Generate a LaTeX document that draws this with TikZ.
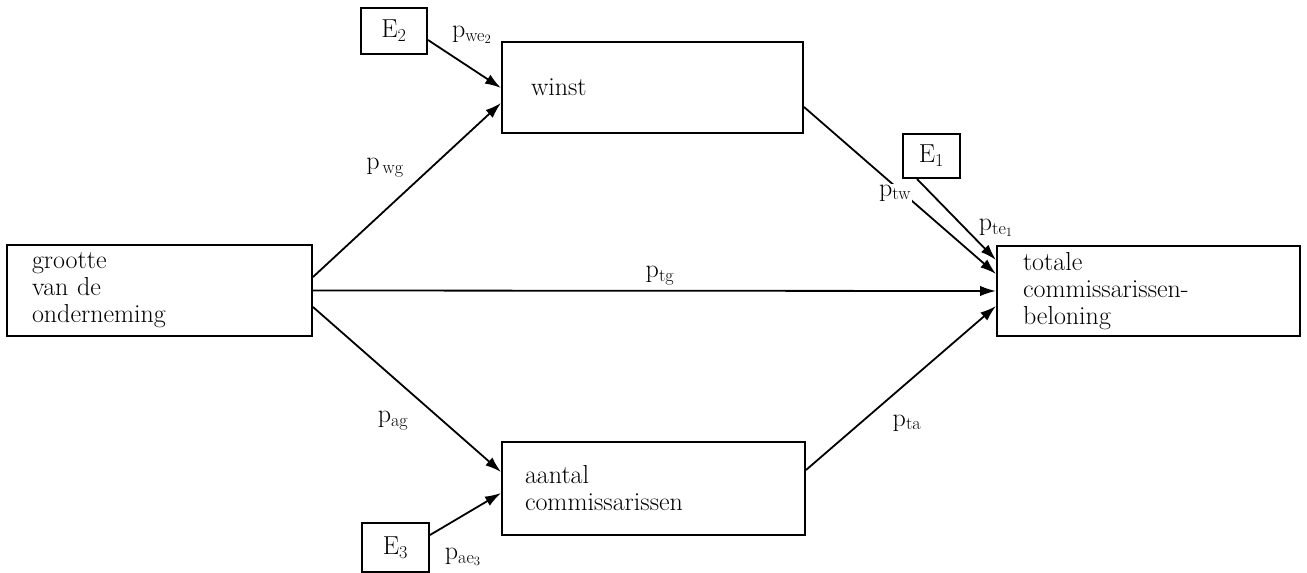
\documentclass[tikz,border=0pt]{standalone}
\usepackage{fontspec}
\usetikzlibrary{arrows.meta}
\begin{document}
\begin{tikzpicture}[x=1pt,y=-1pt,
  every node/.style={font=\fontsize{26}{27}\selectfont},
  bigbox/.style={draw,line width=2pt,align=left,inner ysep=0pt,minimum height=#1},
  ebox/.style={draw,line width=2pt,inner sep=0pt},
  conn/.style={line width=1.8pt,-{Latex[length=16pt,width=10.5pt]}},
  lab/.style={inner sep=1pt}]
\useasboundingbox (0,0) rectangle (1307,573);
% boxes
\node[bigbox=91pt,inner xsep=25pt,text width=255pt] (g) at (159.5,290.5) {grootte\\van de\\onderneming};
\node[bigbox=90pt,inner xsep=26pt,text width=251pt] (t) at (1148.5,291) {totale\\commissarissen-\\beloning};
\node[bigbox=91pt,inner xsep=29pt,text width=243pt] (w) at (652.5,87.5) {winst};
\node[bigbox=93pt,inner xsep=23pt,text width=257pt] (a) at (653.5,488.5) {aantal\\commissarissen};
\node[ebox,minimum width=66pt,minimum height=46pt] (e2) at (394,31) {E\textsubscript{2}};
\node[ebox,minimum width=57pt,minimum height=44pt] (e1) at (931.5,156) {E\textsubscript{1}};
\node[ebox,minimum width=67pt,minimum height=49pt] (e3) at (395.5,547.5) {E\textsubscript{3}};
% connectors
\draw[conn] ([yshift=13.5pt]g.east) -- ([yshift=-15.5pt]w.west);
\draw[conn] (g.east) -- (t.west);
\draw[conn] ([yshift=-16.5pt]g.east) -- ([yshift=16.5pt]a.west);
\draw[conn] ([yshift=12.5pt]e3.east) -- ([yshift=-4.5pt]a.west);
\draw[conn] ([yshift=-9pt]e2.east) -- ([yshift=-0.5pt]w.west);
\draw[conn] ([yshift=18.5pt]a.east) -- ([yshift=-15pt]t.west);
\draw[conn] ([yshift=-19.5pt]w.east) -- ([yshift=17pt]t.west);
\draw[conn] ([xshift=-14.5pt]e1.south) -- ([yshift=31pt]t.west);
% labels
\node[lab] (lwe) at (472,35) {p\textsubscript{we\textsubscript{2}}};
\node[lab] (lwg) at (385,168) {p\textsubscript{\,wg}};
\node[lab] (ltg) at (660,276) {p\textsubscript{tg}};
\node[lab] (lag) at (393,421) {p\textsubscript{ag}};
\node[lab] (lta) at (907,423) {p\textsubscript{ta}};
\node[lab,fill=white] (ltw) at (895,193) {p\textsubscript{tw}};
\node[lab] (lte) at (996,228) {p\textsubscript{te\textsubscript{1}}};
\node[lab] (lae) at (463,557) {p\textsubscript{ae\textsubscript{3}}};
\end{tikzpicture}
\end{document}
